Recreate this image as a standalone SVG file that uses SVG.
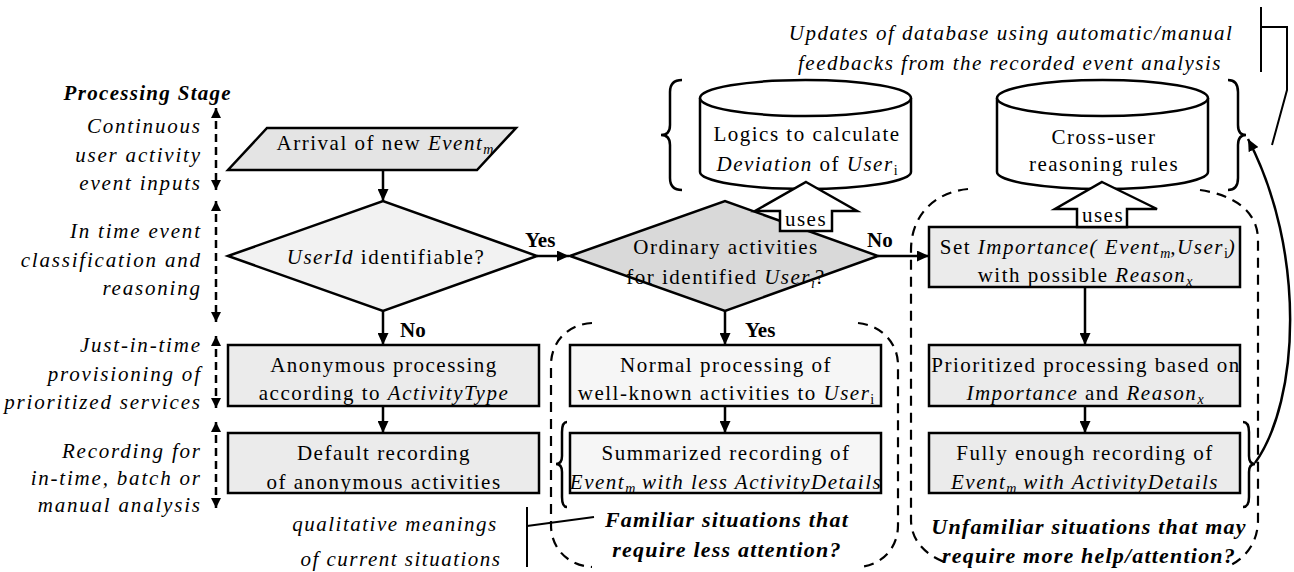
<svg xmlns="http://www.w3.org/2000/svg" width="1294" height="572" viewBox="0 0 1294 572">
<defs>
<style>
.t{font-family:"Liberation Serif","Times New Roman",serif;font-size:21px;letter-spacing:1.5px;fill:#000}
.lab{font-family:"Liberation Serif","Times New Roman",serif;font-size:21px;font-style:italic;letter-spacing:1.5px;fill:#000}
.stg{letter-spacing:1.8px}
.b{font-family:"Liberation Serif","Times New Roman",serif;font-size:21px;font-weight:bold;fill:#000}
.bi{font-family:"Liberation Serif","Times New Roman",serif;font-size:22px;font-weight:bold;font-style:italic;letter-spacing:1.2px;fill:#000}
.i{font-style:italic}
.sub{font-size:14px;letter-spacing:0}
.shape{stroke:#000;stroke-width:2.5}
.gray{fill:#ebebeb}
.light{fill:#f6f6f6}
.line{fill:none;stroke:#000;stroke-width:2.5}
.thin{fill:none;stroke:#000;stroke-width:2}
.dash{fill:none;stroke:#000;stroke-width:2.2;stroke-dasharray:10 7}
.sdash{fill:none;stroke:#000;stroke-width:2.5;stroke-dasharray:8 5}
</style>
<marker id="ah" viewBox="0 0 12 11" refX="12" refY="5.5" markerWidth="12" markerHeight="11" markerUnits="userSpaceOnUse" orient="auto-start-reverse"><path d="M0,0 L12,5.5 L0,11 z" fill="#000"/></marker>
<marker id="sh" viewBox="0 0 10 10" refX="10" refY="5" markerWidth="10" markerHeight="10" markerUnits="userSpaceOnUse" orient="auto-start-reverse"><path d="M0,0 L10,5 L0,10 z" fill="#000"/></marker>
</defs>
<rect width="1294" height="572" fill="#fff"/>

<g id="stage-labels">
<text class="b i" x="232" y="100" text-anchor="end" style="letter-spacing:1.3px">Processing Stage</text>
<text class="lab stg" x="201.8" y="133" text-anchor="end">Continuous</text>
<text class="lab stg" x="201.8" y="162" text-anchor="end">user activity</text>
<text class="lab stg" x="201.8" y="190" text-anchor="end">event inputs</text>
<text class="lab stg" x="201.8" y="238" text-anchor="end">In time event</text>
<text class="lab stg" x="201.8" y="267" text-anchor="end">classification and</text>
<text class="lab stg" x="201.8" y="295" text-anchor="end">reasoning</text>
<text class="lab stg" x="201.8" y="352" text-anchor="end">Just-in-time</text>
<text class="lab stg" x="201.8" y="381" text-anchor="end">provisioning of</text>
<text class="lab stg" x="201.8" y="409" text-anchor="end">prioritized services</text>
<text class="lab stg" x="201.8" y="458" text-anchor="end">Recording for</text>
<text class="lab stg" x="201.8" y="485" text-anchor="end">in-time, batch or</text>
<text class="lab stg" x="201.8" y="512" text-anchor="end">manual analysis</text>
</g>

<g id="arrival">
<polygon class="shape" fill="#e4e4e4" points="267,128 516,128 477,170 228,170"/>
<text class="t" x="385" y="150" text-anchor="middle">Arrival of new <tspan class="i">Event</tspan><tspan class="sub i" dy="4">m</tspan></text>
</g>

<g id="userid-decision">
<polygon class="shape" fill="#f2f2f2" points="228,256 383,201 537,256 383,311"/>
<text class="t" x="386" y="264" text-anchor="middle"><tspan class="i">UserId</tspan> identifiable?</text>
</g>

<g id="ordinary-decision">
<polygon class="shape" fill="#d9d9d9" points="570,256 725,201 878,256 725,311"/>
<text class="t" x="726" y="254" text-anchor="middle">Ordinary activities</text>
<text class="t" x="726" y="284" text-anchor="middle">for identified <tspan class="i">User</tspan><tspan class="sub i" dy="4">i</tspan><tspan dy="-4">?</tspan></text>
</g>

<g id="db-deviation">
<path class="shape" fill="#fff" d="M700,98 L700,172 A105.5,17 0 0 0 911,172 L911,98"/>
<ellipse class="shape" fill="#fff" cx="805.5" cy="98" rx="105.5" ry="18"/>
<text class="t" x="807" y="141" text-anchor="middle">Logics to calculate</text>
<text class="t" x="807" y="171" text-anchor="middle"><tspan class="i">Deviation</tspan> of <tspan class="i">User</tspan><tspan class="sub" dy="4">i</tspan></text>
</g>

<g id="db-reasoning">
<path class="shape" fill="#fff" d="M997,98 L997,172 A105.5,17 0 0 0 1208,172 L1208,98"/>
<ellipse class="shape" fill="#fff" cx="1102.5" cy="98" rx="105.5" ry="18"/>
<text class="t" x="1104" y="144" text-anchor="middle">Cross-user</text>
<text class="t" x="1104" y="171" text-anchor="middle">reasoning rules</text>
</g>

<g id="set-importance">
<rect class="shape gray" x="929" y="227" width="311" height="60"/>
<text class="t" x="1088" y="254" text-anchor="middle">Set <tspan class="i">Importance( Event</tspan><tspan class="sub i" dy="4">m</tspan><tspan class="i" dy="-4">,User</tspan><tspan class="sub" dy="4">i</tspan><tspan class="i" dy="-4">)</tspan></text>
<text class="t" x="1085" y="282" text-anchor="middle">with possible <tspan class="i">Reason</tspan><tspan class="sub i" dy="4">x</tspan></text>
</g>

<g id="anonymous-processing">
<rect class="shape gray" x="228" y="345" width="311" height="61"/>
<text class="t" x="384" y="372" text-anchor="middle">Anonymous processing</text>
<text class="t" x="384" y="400" text-anchor="middle">according to <tspan class="i">ActivityType</tspan></text>
</g>

<g id="normal-processing">
<rect class="shape light" x="570" y="345" width="311" height="61"/>
<text class="t" x="726" y="372" text-anchor="middle">Normal processing of</text>
<text class="t" x="726" y="400" text-anchor="middle">well-known activities to <tspan class="i">User</tspan><tspan class="sub" dy="4">i</tspan></text>
</g>

<g id="prioritized-processing">
<rect class="shape gray" x="929" y="345" width="311" height="61"/>
<text class="t" x="1086" y="372" text-anchor="middle">Prioritized processing based on</text>
<text class="t" x="1085" y="400" text-anchor="middle"><tspan class="i">Importance</tspan> and <tspan class="i">Reason</tspan><tspan class="sub i" dy="4">x</tspan></text>
</g>

<g id="default-recording">
<rect class="shape gray" x="228" y="433" width="311" height="60"/>
<text class="t" x="384" y="460" text-anchor="middle">Default recording</text>
<text class="t" x="384" y="489" text-anchor="middle">of anonymous activities</text>
</g>

<g id="summarized-recording">
<rect class="shape light" x="570" y="433" width="311" height="60"/>
<text class="t" x="726" y="460" text-anchor="middle">Summarized  recording of</text>
<text class="t i" x="726" y="489" text-anchor="middle">Event<tspan class="sub" dy="4">m</tspan><tspan dy="-4"> with less ActivityDetails</tspan></text>
</g>

<g id="full-recording">
<rect class="shape gray" x="929" y="433" width="311" height="60"/>
<text class="t" x="1085" y="460" text-anchor="middle">Fully enough recording of</text>
<text class="t i" x="1085" y="489" text-anchor="middle">Event<tspan class="sub" dy="4">m</tspan><tspan dy="-4"> with ActivityDetails</tspan></text>
</g>

<g id="annotations">
<text class="lab" x="1011" y="40" text-anchor="middle">Updates of database using automatic/manual</text>
<text class="lab" x="1010" y="70" text-anchor="middle">feedbacks from the recorded event analysis</text>
<text class="lab" x="395" y="531" text-anchor="middle">qualitative meanings</text>
<text class="lab" x="401" y="566" text-anchor="middle">of current situations</text>
<text class="bi" x="727" y="527" text-anchor="middle">Familiar situations that</text>
<text class="bi" x="727" y="557" text-anchor="middle">require less attention?</text>
<text class="bi" x="1089" y="534" text-anchor="middle">Unfamiliar situations that may</text>
<text class="bi" x="1089" y="563" text-anchor="middle">require more help/attention?</text>
</g>

<g id="connectors">
<line class="sdash" x1="216" y1="108" x2="216" y2="190" marker-start="url(#sh)" marker-end="url(#sh)"/>
<line class="sdash" x1="216" y1="201" x2="216" y2="322" marker-start="url(#sh)" marker-end="url(#sh)"/>
<line class="sdash" x1="216" y1="336" x2="216" y2="408" marker-start="url(#sh)" marker-end="url(#sh)"/>
<line class="sdash" x1="216" y1="422" x2="216" y2="508" marker-start="url(#sh)" marker-end="url(#sh)"/>
<line class="line" x1="383" y1="170" x2="383" y2="201" marker-end="url(#ah)"/>
<line class="line" x1="537" y1="256" x2="569" y2="256" marker-end="url(#ah)"/>
<text class="b" x="525" y="247">Yes</text>
<line class="line" x1="878" y1="256" x2="929" y2="256" marker-end="url(#ah)"/>
<text class="b" x="867" y="247">No</text>
<line class="line" x1="383" y1="311" x2="383" y2="345" marker-end="url(#ah)"/>
<text class="b" x="400" y="337">No</text>
<line class="line" x1="725" y1="311" x2="725" y2="345" marker-end="url(#ah)"/>
<text class="b" x="745" y="337">Yes</text>
<line class="line" x1="383" y1="406" x2="383" y2="433" marker-end="url(#ah)"/>
<line class="line" x1="725" y1="406" x2="725" y2="433" marker-end="url(#ah)"/>
<line class="line" x1="1085" y1="287" x2="1085" y2="345" marker-end="url(#ah)"/>
<line class="line" x1="1085" y1="406" x2="1085" y2="433" marker-end="url(#ah)"/>
<polygon class="shape" fill="#fff" points="806,182 857,211 832,211 832,231 780,231 780,211 755,211"/>
<text class="t" x="806" y="226" text-anchor="middle">uses</text>
<polygon class="shape" fill="#fff" points="1102,182 1157,209 1127,209 1127,227 1077,227 1077,209 1055,209"/>
<text class="t" x="1103" y="222" text-anchor="middle">uses</text>
<path class="line" d="M682,80 Q670,80 670,92 L670,125 Q670,135 661,135 Q670,135 670,145 L670,178 Q670,190 682,190"/>
<path class="line" d="M1228,80 Q1238,80 1238,92 L1238,125 Q1238,135 1246,135 Q1238,135 1238,145 L1238,178 Q1238,190 1228,190"/>
<path class="line" d="M567,422 Q562,422 562,432 L562,456 Q562,464 556,464 Q562,464 562,472 L562,497 Q562,507 567,507"/>
<path class="line" d="M1243,422 Q1249,422 1249,432 L1249,456 Q1249,464 1255,464 Q1249,464 1249,472 L1249,497 Q1249,507 1243,507"/>
<path class="line" d="M1255,463 C1300,400 1306,250 1248,139" marker-end="url(#ah)"/>
<line class="thin" x1="1261" y1="7" x2="1261" y2="72"/>
<polyline class="thin" points="1261,27 1287,27 1287,90 1272,145"/>
<line class="thin" x1="527" y1="507" x2="527" y2="567"/>
<line class="thin" x1="527" y1="526" x2="594" y2="517"/>
<path class="dash" d="M592,323 C570,324 551,340 551,365 L551,525 C551,550 570,566 592,567"/>
<path class="dash" d="M858,323 C880,325 898,342 898,365 L898,525 C898,550 880,566 858,567"/>
<path class="dash" d="M968,189 C935,192 911,215 911,250 L911,520 C911,540 925,555 947,563"/>
<path class="dash" d="M1200,190 C1235,195 1258,212 1258,240 L1258,520 C1258,540 1248,556 1231,565"/>
</g>
</svg>
